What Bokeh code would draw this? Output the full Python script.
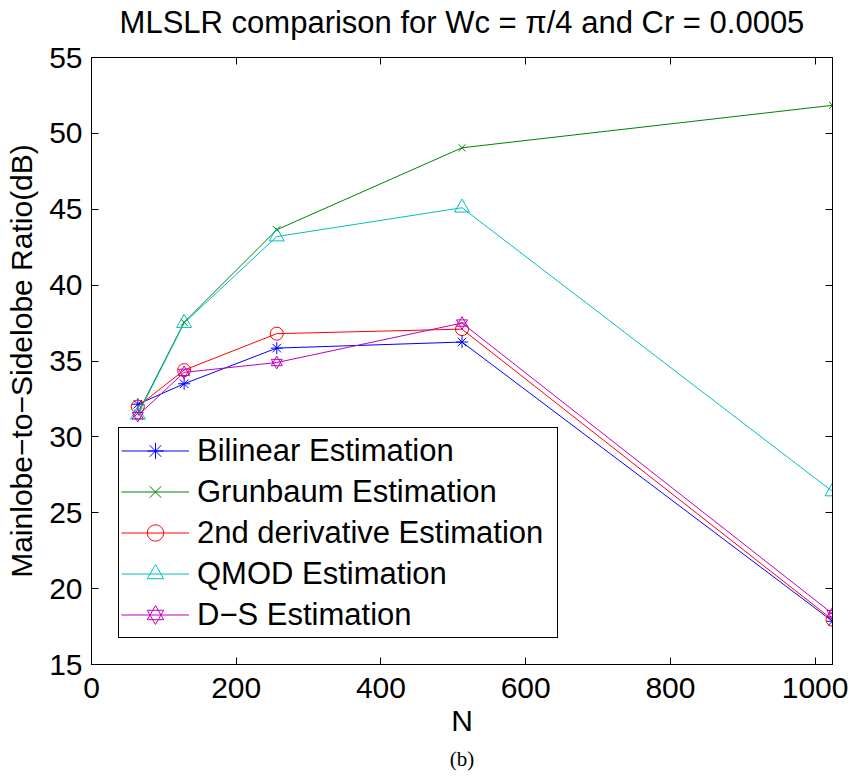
from bokeh.plotting import figure
from bokeh.models import LinearAxis, FixedTicker, Legend, LegendItem, Title, Range1d
from bokeh.embed import file_html
from bokeh.resources import INLINE

# ---- data ----
N_values = [64, 128, 256, 512, 1024]
bilinear = [32.15, 33.5, 35.85, 36.25, 17.85]
grunbaum = [31.55, 37.55, 43.65, 49.05, 51.85]
second_derivative = [32.0, 34.4, 36.8, 37.1, 17.95]
qmod = [31.45, 37.5, 43.2, 45.1, 26.4]
ds = [31.4, 34.25, 34.9, 37.5, 18.35]

x_ticks = [0, 200, 400, 600, 800, 1000]
y_ticks = [15, 20, 25, 30, 35, 40, 45, 50, 55]
title_text = "MLSLR comparison for Wc = \u03c0/4 and Cr = 0.0005"

FONT = "Liberation Sans"

p = figure(width=851, height=784, output_backend="svg", toolbar_location=None,
           x_range=Range1d(0, 1024), y_range=Range1d(15, 55),
           min_border_left=91, min_border_right=19, min_border_top=57,
           min_border_bottom=120, x_axis_label="N",
           y_axis_label="Mainlobe\u2212to\u2212Sidelobe Ratio(dB)")
p.background_fill_color = "white"
p.border_fill_color = "white"
p.grid.visible = False
p.outline_line_color = "black"
p.outline_line_width = 1

def style_axis(ax, ticks, show_labels=True):
    ax.ticker = FixedTicker(ticks=ticks)
    ax.major_tick_in = 7
    ax.major_tick_out = 0
    ax.minor_tick_line_color = None
    ax.axis_line_color = "black"
    ax.major_tick_line_color = "black"
    ax.major_label_text_font = FONT
    ax.major_label_text_color = "black"
    if show_labels:
        ax.major_label_text_font_size = "30px"
    else:
        ax.major_label_text_font_size = "1px"
        ax.major_label_text_color = None
        ax.major_label_standoff = 0

for ax in p.xaxis:
    style_axis(ax, x_ticks)
    ax.major_label_standoff = 13
    ax.axis_label_standoff = 3
for ax in p.yaxis:
    style_axis(ax, y_ticks)
    ax.major_label_standoff = 9
    ax.axis_label_standoff = 8

# top axis carries the chart title as its label
top_ax = LinearAxis(axis_label=title_text)
style_axis(top_ax, x_ticks, show_labels=False)
top_ax.axis_label_standoff = 18
p.add_layout(top_ax, "above")
right_ax = LinearAxis()
style_axis(right_ax, y_ticks, show_labels=False)
p.add_layout(right_ax, "right")

for ax in list(p.xaxis) + list(p.yaxis):
    ax.axis_label_text_font = FONT
    ax.axis_label_text_font_size = "30px"
    ax.axis_label_text_font_style = "normal"
    ax.axis_label_text_color = "black"
top_ax.axis_label_text_font_size = "31px"

caption = Title(text="(b)", align="center", text_font="Liberation Serif",
                text_font_size="21px", text_font_style="normal", text_color="black")
p.add_layout(caption, "below")

series = [
    ("Bilinear Estimation", bilinear, "#0000FF", ["asterisk"], 12),
    ("Grunbaum Estimation", grunbaum, "#008000", ["x"], 10),
    ("2nd derivative Estimation", second_derivative, "#FF0000", ["circle"], 13),
    ("QMOD Estimation", qmod, "#00BFBF", ["triangle"], 15),
    ("D\u2212S Estimation", ds, "#BF00BF", ["triangle", "inverted_triangle"], 11),
]

items = []
for label, vals, color, markers, size in series:
    rs = [p.line(N_values, vals, line_color=color, line_width=1)]
    for m in markers:
        rs.append(p.scatter(N_values, vals, marker=m, size=size, line_color=color,
                            fill_color=None, line_width=1))
    items.append(LegendItem(label=label, renderers=rs))

legend = Legend(items=items, location=(27, 26), padding=2, spacing=0,
                glyph_width=68, glyph_height=41, label_height=41, label_width=358,
                label_standoff=8, margin=0,
                label_text_font=FONT, label_text_font_size="31px",
                label_text_color="black",
                border_line_color="black", border_line_width=1, border_line_alpha=1,
                background_fill_color="white", background_fill_alpha=1)
p.add_layout(legend, "center")

open("out.html", "w").write(file_html(p, INLINE))
